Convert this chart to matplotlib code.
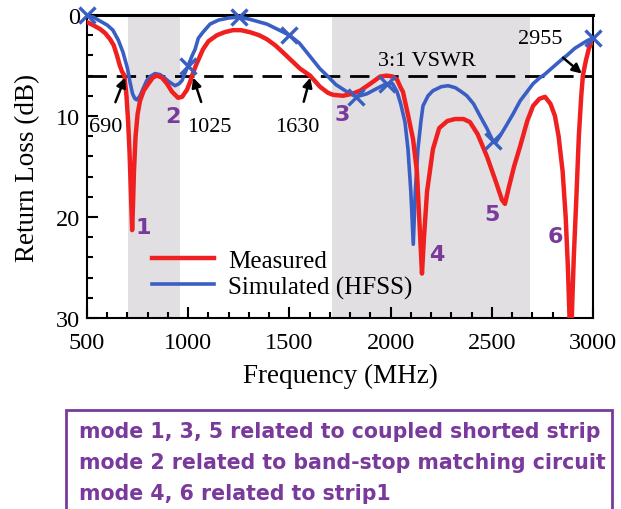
import matplotlib
matplotlib.use("Agg")
import matplotlib.pyplot as plt
from matplotlib.patches import Rectangle

# ---------------- data ----------------
meas_f = [500, 530, 565, 590, 614, 632, 648, 662, 673, 685, 695, 703, 710, 716, 720, 723,
          727, 732, 740, 750, 762, 780, 800, 825, 846, 870, 895, 920, 950, 970, 994, 1010,
          1019, 1040, 1073, 1100, 1142, 1180, 1221, 1260, 1305, 1350, 1389, 1430, 1468, 1510,
          1552, 1602, 1651, 1690, 1715, 1765, 1810, 1849, 1900, 1948, 1980, 2012, 2032, 2050,
          2061, 2085, 2111, 2130, 2145, 2155, 2165, 2180, 2209, 2240, 2280, 2318, 2360, 2392,
          2430, 2476, 2520, 2550, 2565, 2585, 2610, 2640, 2675, 2704, 2735, 2763, 2790, 2812,
          2830, 2850, 2865, 2876, 2884, 2888, 2895, 2905, 2918, 2930, 2942, 2950, 2965, 2980, 3000]
meas_db = [0.7, 1.0, 1.4, 1.8, 2.4, 3.0, 4.0, 5.0, 5.6, 6.0, 8.0, 10.5, 13.5, 17.0, 19.5, 21.3,
           19.0, 15.5, 12.0, 9.8, 8.5, 7.5, 6.9, 6.2, 6.0, 6.2, 6.8, 7.6, 8.2, 8.1, 7.4, 6.6,
           6.0, 4.9, 3.4, 2.6, 2.0, 1.7, 1.5, 1.5, 1.7, 2.0, 2.4, 3.0, 3.7, 4.5,
           5.3, 6.0, 7.1, 7.7, 7.9, 8.0, 7.8, 7.5, 6.8, 6.1, 6.0, 6.1, 6.4, 7.2,
           7.6, 9.8, 12.3, 15.5, 21.5, 25.6, 22.0, 17.5, 13.3, 11.2, 10.5, 10.3, 10.3, 10.6,
           11.8, 14.0, 16.5, 18.3, 18.7, 17.0, 15.0, 13.0, 10.5, 9.0, 8.3, 8.1, 8.8, 10.0,
           12.0, 15.5, 20.0, 25.0, 30.0, 32.0, 30.0, 24.0, 18.0, 12.0, 8.0, 6.0, 4.5, 3.3, 2.4]

sim_f = [500, 530, 565, 600, 628, 655, 678, 700, 712, 725, 737, 747, 762, 777, 795, 811, 836,
         860, 875, 905, 935, 955, 969, 985, 1000, 1020, 1034, 1050, 1073, 1108, 1150, 1200,
         1250, 1300, 1389, 1450, 1500, 1550, 1602, 1650, 1686, 1730, 1784, 1830, 1883, 1930,
         1980, 2010, 2032, 2050, 2071, 2086, 2100, 2112, 2122, 2135, 2150, 2160, 2185, 2209,
         2250, 2284, 2320, 2350, 2377, 2410, 2442, 2475, 2506, 2520, 2540, 2570, 2605, 2640,
         2674, 2704, 2738, 2760, 2800, 2840, 2871, 2910, 2950, 2975, 3000]
sim_db = [0.0, 0.2, 0.6, 1.0, 1.5, 2.5, 3.7, 5.3, 6.6, 7.8, 8.3, 8.4, 8.0, 7.3, 6.5, 6.1, 5.8,
          5.9, 6.1, 6.6, 7.0, 6.8, 6.5, 5.7, 5.0, 4.0, 3.4, 2.3, 1.7, 0.9, 0.5, 0.3,
          0.2, 0.4, 0.9, 1.5, 2.0, 2.8, 4.1, 5.3, 6.0, 6.9, 7.6, 8.1, 7.8, 7.3,
          6.8, 6.8, 7.6, 8.8, 10.6, 13.3, 17.5, 22.7, 17.5, 13.3, 10.5, 9.0, 8.0, 7.5,
          7.1, 7.0, 7.2, 7.6, 8.0, 8.8, 10.0, 11.2, 12.5, 12.6, 12.0, 11.0, 9.8, 8.5,
          7.6, 6.8, 6.2, 5.9, 5.2, 4.5, 4.0, 3.3, 2.8, 2.5, 2.3]
sim_marker_f = [500, 1000, 1250, 1500, 1830, 1980, 2506, 3000]

shade_bands = [(702, 960), (1710, 2690)]
vswr_db = 6.0

mode_labels = ["1", "2", "3", "4", "5", "6"]
mode_f = [777, 925, 1760, 2229, 2501, 2812]
mode_db = [21.0, 10.0, 9.8, 23.7, 19.7, 21.9]

freq_labels = ["690", "1025", "1630"]
freq_text_f = [594, 1103, 1538]
freq_head_f = [688, 1025, 1603]

notes = ["mode 1, 3, 5 related to coupled shorted strip",
         "mode 2 related to band-stop matching circuit",
         "mode 4, 6 related to strip1"]

# ---------------- plot ----------------
W, H = 621, 510
fig = plt.figure(figsize=(W / 100, H / 100), dpi=100)
fig.patch.set_facecolor("white")
ax = fig.add_axes([87 / W, 1 - 319 / H, (593 - 87) / W, (319 - 16) / H])

serif = "Liberation Serif"
purple = "#7a3a9c"

for a, b in shade_bands:
    ax.axvspan(a, b, color="#e2dfe2", lw=0, zorder=0)

ax.axhline(vswr_db, color="black", lw=2.0, dashes=(7, 3.5), zorder=2)

ax.plot(sim_f, sim_db, color="#3a5fc4", lw=2.6, zorder=3, label="Simulated (HFSS)")
mk_idx = [sim_f.index(v) for v in sim_marker_f]
ax.plot([sim_f[i] for i in mk_idx], [sim_db[i] for i in mk_idx], ls="none", marker="x",
        ms=11, mew=2.4, color="#3a5fc4", zorder=5, clip_on=False)
ax.plot(meas_f, meas_db, color="#f02020", lw=3.2, zorder=4, label="Measured")

ax.set_xlim(500, 3000)
ax.set_ylim(30, 0)
ax.set_xticks([500, 1000, 1500, 2000, 2500, 3000])
ax.set_xticks(range(500, 3001, 100), minor=True)
ax.set_yticks([0, 10, 20, 30])
ax.set_yticks(range(0, 31, 2), minor=True)
ax.tick_params(which="both", direction="in", top=False, right=False, labelsize=17.5, width=1.5)
ax.tick_params(which="major", length=8)
ax.tick_params(which="minor", length=4.5)
ax.tick_params(axis="x", which="major", pad=10)
ax.tick_params(axis="y", which="major", pad=5)
for lab in ax.get_xticklabels() + ax.get_yticklabels():
    lab.set_fontfamily(serif)
for s in ax.spines.values():
    s.set_linewidth(1.5)
ax.spines["top"].set_linewidth(2.2)

ax.set_xlabel("Frequency (MHz)", fontsize=19.5, family=serif, labelpad=7)
ax.set_ylabel("Return Loss (dB)", fontsize=19.5, family=serif, labelpad=11)

h, l = ax.get_legend_handles_labels()
leg = ax.legend(h[::-1], l[::-1], loc="upper left", bbox_to_anchor=(0.108, 0.26),
                frameon=False, prop={"family": serif, "size": 18}, handlelength=2.5,
                handletextpad=0.55, labelspacing=0.15, borderaxespad=0)
leg.set_zorder(6)

for t, f, d in zip(mode_labels, mode_f, mode_db):
    ax.text(f, d, t, color=purple, fontsize=16, fontweight="bold", family="DejaVu Sans",
            ha="center", va="center", zorder=6)

for t, tf, hf in zip(freq_labels, freq_text_f, freq_head_f):
    ax.annotate(t, xy=(hf, vswr_db + 0.2), xytext=(tf, 11.0), ha="center", va="center",
                fontsize=16, family=serif, zorder=6,
                arrowprops=dict(arrowstyle="-|>", color="black", lw=1.8,
                                shrinkA=9, shrinkB=0, mutation_scale=14))
ax.annotate("2955", xy=(2945, 5.8), xytext=(2738, 2.3), ha="center", va="center",
            fontsize=16, family=serif, zorder=6,
            arrowprops=dict(arrowstyle="-|>", color="black", lw=1.8,
                            shrinkA=8, shrinkB=0, mutation_scale=14))
ax.text(2180, 5.4, "3:1 VSWR", fontsize=16, family=serif, ha="center", va="bottom", zorder=6)

# notes box
fig.patches.append(Rectangle((66 / W, -0.05), (612 - 66) / W, (1 - 411 / H) + 0.05,
                             transform=fig.transFigure, fill=False, ec=purple, lw=2.0))
for i, t in enumerate(notes):
    fig.text(79 / W, 1 - (432 + 31 * i) / H, t, color=purple, fontsize=14.8,
             fontweight="bold", family="DejaVu Sans", ha="left", va="center")

fig.savefig("out.png", dpi=100)
